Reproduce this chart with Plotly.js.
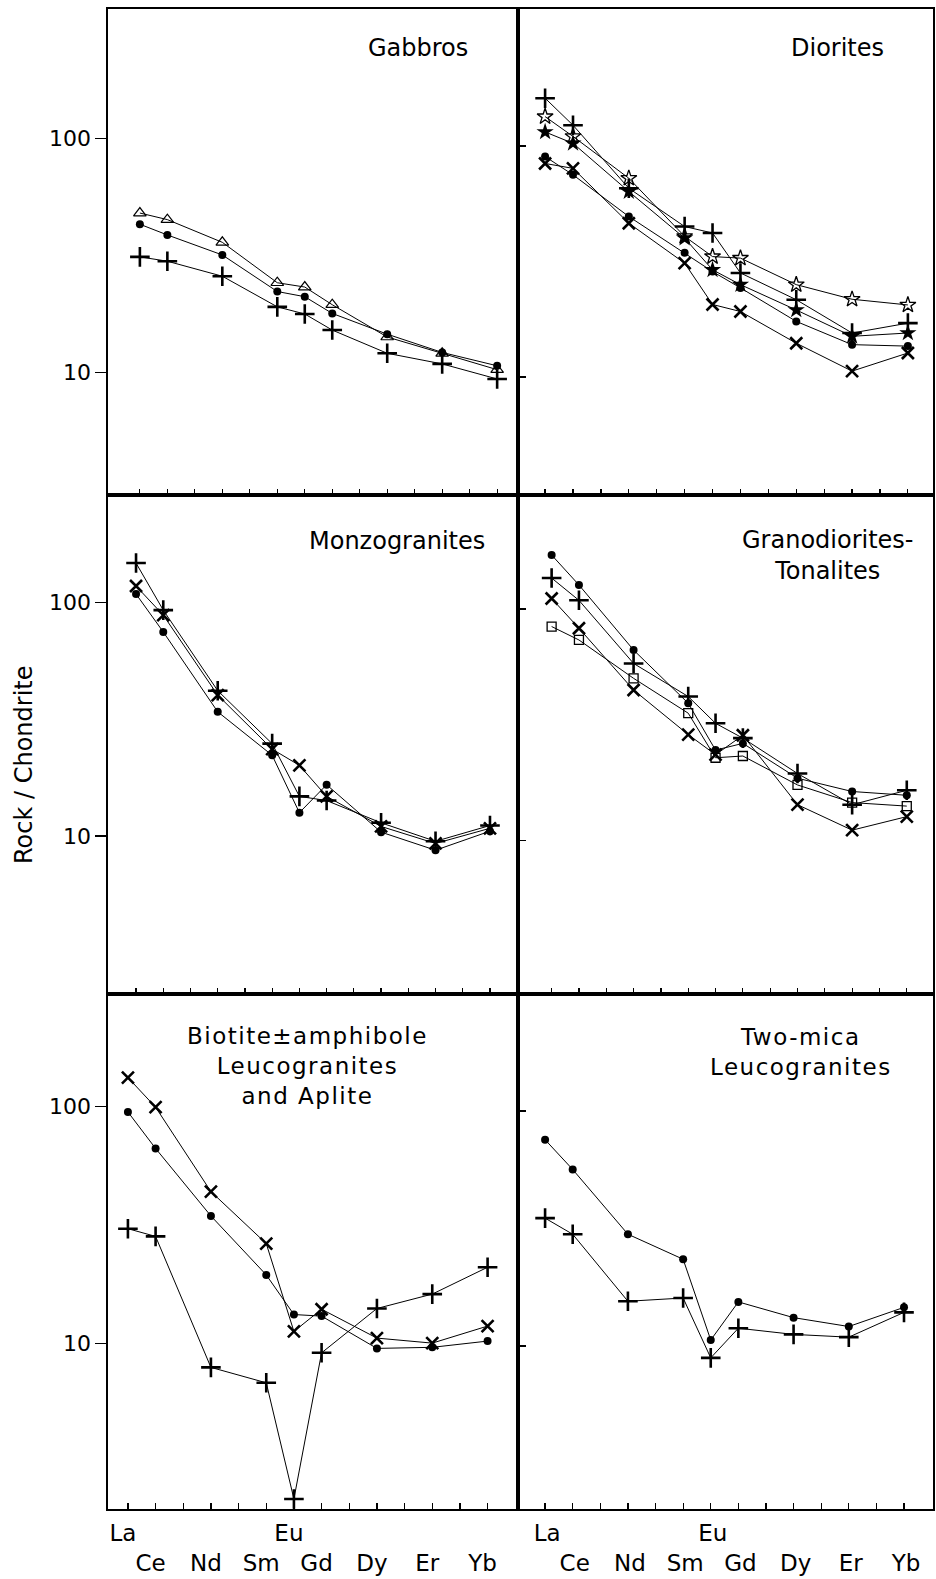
<!DOCTYPE html>
<html><head><meta charset="utf-8">
<script src="https://cdn.plot.ly/plotly-3.0.1.min.js"></script>
<style>html,body{margin:0;padding:0;background:#fff;} #chart{width:936px;height:1579px;}</style>
</head><body><div id="chart"></div>
<script>
// ---- data ----
const ELEMENTS = ['La','Ce','Pr','Nd','Pm','Sm','Eu','Gd','Tb','Dy','Ho','Er','Tm','Yb'];
const MEASURED = ['La','Ce','Nd','Sm','Eu','Gd','Dy','Er','Yb'];
const UPPER_ROW_LABELS = ['La','Eu'];
const Y_TICKS = [10, 100];
const Y_TICK_LABELS = ['10', '100'];
const Y_TITLE = 'Rock / Chondrite';

const gabbrosTriangle = [48, 45, 36, 24.2, 23.2, 19.5, 14.2, 12.1, 10.3];
const gabbrosDot      = [43, 38.7, 31.8, 22.2, 21.1, 17.9, 14.6, 12.2, 10.7];
const gabbrosPlus     = [31.2, 29.9, 25.8, 19.1, 17.8, 15.2, 12.1, 10.9, 9.4];

const dioritesPlus     = [161, 123, 65.6, 44.8, 42, 28.2, 21.6, 15.5, 17.1];
const dioritesOpenStar = [134, 110, 72.5, 40.6, 33.2, 32.7, 25.1, 21.7, 20.5];
const dioritesStar     = [115, 102.7, 63.5, 39.9, 29.1, 25.1, 19.5, 15, 15.5];
const dioritesDot      = [90, 75, 49.5, 34.5, 28.6, 24.3, 17.4, 13.8, 13.6];
const dioritesCross    = [84, 80, 46.3, 31.1, 20.6, 19.2, 14, 10.6, 12.7];

const monzoPlus  = [148, 93, 42, 24.9, 14.8, 14.2, 11.4, 9.5, 11.1];
const monzoCross = [118, 88.5, 40.2, 23.6, 20.1, 14.8, 11.0, 9.3, 10.8];
const monzoDot   = [109, 75, 34.1, 22.2, 12.6, 16.6, 10.4, 8.7, 10.5];

const granoDot    = [171, 127, 66.5, 39.2, 24.6, 26.3, 18.6, 16.3, 15.7];
const granoPlus   = [136, 109, 58.2, 41.9, 32.1, 27.7, 19.5, 14.3, 16.5];
const granoCross  = [111, 82.6, 44.7, 28.7, 23.5, 28.5, 14.3, 11.1, 12.7];
const granoSquare = [84, 73.5, 50.2, 35.5, 22.8, 23.2, 17.4, 14.6, 14.1];

const biotCross = [132, 99, 43.6, 26.3, 11.2, 13.9, 10.5, 10, 11.8];
const biotDot   = [94.5, 66.3, 34.4, 19.4, 13.2, 13, 9.5, 9.6, 10.2];
const biotPlus  = [30.4, 28.2, 7.9, 6.8, 2.2, 9.1, 14, 16.1, 20.9];

const twoMicaDot  = [75.5, 56.4, 29.9, 23.4, 10.6, 15.4, 13.2, 12.1, 14.6];
const twoMicaPlus = [35, 29.9, 15.5, 16, 8.9, 11.9, 11.2, 10.9, 13.9];

const PANEL_TITLES = ['Gabbros', 'Diorites', 'Monzogranites', 'Granodiorites-<br>Tonalites',
  'Biotite\u00b1amphibole<br>Leucogranites<br>and Aplite', 'Two-mica<br>Leucogranites'];

// ---- styles ----
const FONT = 'DejaVu Sans, Arial, sans-serif';
const MK = {
  plus:   {symbol:'cross-thin', size:14, color:'#000', line:{color:'#000', width:2.6}},
  cross:  {symbol:'x-thin', size:12, color:'#000', line:{color:'#000', width:2.6}},
  dot:    {symbol:'circle', size:8, color:'#000', line:{width:0}},
  tri:    {symbol:'triangle-up-open', size:11, color:'#000', line:{color:'#000', width:1.2}},
  ostar:  {symbol:'star-open', size:12, color:'#000', line:{color:'#000', width:1.3}},
  star:   {symbol:'star', size:13, color:'#000', line:{width:0}},
  square: {symbol:'square-open', size:9, color:'#000', line:{color:'#000', width:1.3}}
};

const xs = MEASURED.map(e => ELEMENTS.indexOf(e));
function tr(vals, kind, n) {
  return {x: xs, y: vals, type:'scatter', mode:'lines+markers',
    xaxis: 'x' + (n===1?'':n), yaxis: 'y' + (n===1?'':n),
    line:{color:'#000', width:1}, marker: MK[kind], showlegend:false, hoverinfo:'skip', cliponaxis:false};
}
const data = [
  tr(gabbrosTriangle,'tri',1), tr(gabbrosDot,'dot',1), tr(gabbrosPlus,'plus',1),
  tr(dioritesOpenStar,'ostar',2), tr(dioritesStar,'star',2), tr(dioritesDot,'dot',2), tr(dioritesCross,'cross',2), tr(dioritesPlus,'plus',2),
  tr(monzoDot,'dot',3), tr(monzoCross,'cross',3), tr(monzoPlus,'plus',3),
  tr(granoSquare,'square',4), tr(granoDot,'dot',4), tr(granoCross,'cross',4), tr(granoPlus,'plus',4),
  tr(biotDot,'dot',5), tr(biotCross,'cross',5), tr(biotPlus,'plus',5),
  tr(twoMicaDot,'dot',6), tr(twoMicaPlus,'plus',6)
];

const tickVals = ELEMENTS.map((e,i) => i);
const tickText = ELEMENTS.map(e => MEASURED.includes(e) ? (UPPER_ROW_LABELS.includes(e) ? e : '<br>' + e) : '');

const xDom = [[0, 0.497], [0.497, 1]];
const yDom = [[0.676, 1], [0.3433, 0.676], [0, 0.3433]];
const xRng = [[-1.16, 13.76], [-0.97, 13.9], [-1.03, 14.03], [-1.23, 13.96], [-0.72, 14.1], [-0.98, 14.05]];
const yRng = [[0.478, 2.552], [0.489, 2.593], [0.323, 2.462], [0.338, 2.492], [0.300, 2.473], [0.306, 2.498]];
const labelShift = [-5, 2];

const layout = {
  width: 936, height: 1579,
  margin: {l:108, r:3, t:9, b:70},
  paper_bgcolor:'#fff', plot_bgcolor:'#fff',
  font: {family: FONT, color:'#000', size: 22},
  showlegend:false,
  annotations: []
};
for (let n = 1; n <= 6; n++) {
  const col = (n-1) % 2, row = Math.floor((n-1)/2);
  const s = n===1 ? '' : n;
  layout['xaxis' + s] = {
    domain: xDom[col], range: xRng[n-1], anchor: 'y' + s,
    showline:true, mirror:true, linecolor:'#000', linewidth:1.6,
    showgrid:false, zeroline:false, fixedrange:true,
    tickmode:'array', tickvals: tickVals, ticktext: tickText, tickangle: 0,
    ticks:'inside', ticklen:6, tickwidth:1.2, tickcolor:'#000',
    showticklabels: row === 2, tickfont:{family:FONT, size:23, color:'#000'},
    ticklabelshift: labelShift[col], ticklabelstandoff: 3
  };
  layout['yaxis' + s] = {
    domain: yDom[row], range: yRng[n-1], type:'log', anchor: 'x' + s,
    showline:true, mirror:true, linecolor:'#000', linewidth:1.6,
    showgrid:false, zeroline:false, fixedrange:true,
    tickmode:'array', tickvals: Y_TICKS, ticktext: Y_TICK_LABELS,
    ticks: col === 0 ? 'outside' : 'inside', ticklen: col === 0 ? 11 : 8, tickwidth:1.2, tickcolor:'#000',
    showticklabels: col === 0, tickfont:{family:FONT, size:22, color:'#000'}
  };
}
// panel titles
const titlePos = [[0.3758, 0.974], [0.8848, 0.974], [0.3497, 0.6453], [0.8727, 0.636], [0.2424, 0.2953], [0.84, 0.3047]];
PANEL_TITLES.forEach((t, i) => {
  const spaced = i >= 4;
  layout.annotations.push({
    text: spaced ? t.split('<br>').map(l => '<span style="letter-spacing:1.5px">' + l + '</span>').join('<br>') : t,
    xref:'paper', yref:'paper', x: titlePos[i][0], y: titlePos[i][1],
    xanchor:'center', yanchor:'middle', align:'center', showarrow:false,
    font:{family:FONT, size: spaced ? 23 : 24, color:'#000'}
  });
});
layout.annotations.push({
  text: Y_TITLE, xref:'paper', yref:'paper', x: -0.1018, y: 0.496, textangle:-90,
  xanchor:'center', yanchor:'middle', showarrow:false, font:{family:FONT, size:24, color:'#000'}
});

Plotly.newPlot('chart', data, layout, {displayModeBar:false, staticPlot:true});
</script></body></html>
